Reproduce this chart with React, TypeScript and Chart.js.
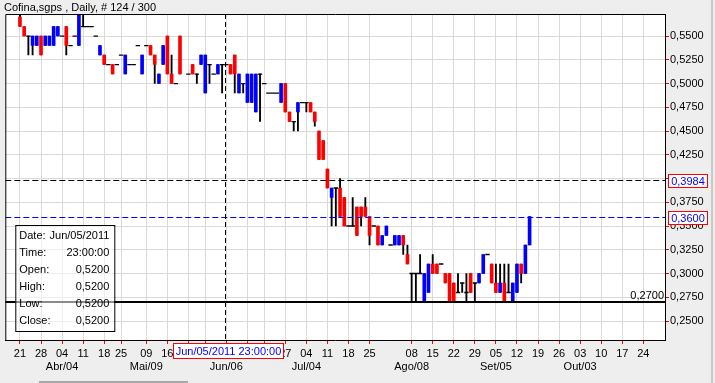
import React, { useEffect, useRef } from 'react';
import { Chart, registerables } from 'chart.js';

Chart.register(...registerables);

// ---- data (bar index = trading-day position on the x axis) ----
const candleIdx = [
  0, 1, 2, 3, 4, 5, 6, 7, 8, 9,
  10, 11, 12, 13, 14, 15, 16, 17, 18, 19,
  20, 21, 22, 23, 24, 25, 26, 27, 28, 29,
  30, 31, 32, 33, 34, 35, 36, 37, 38, 40,
  41, 42, 43, 44, 45, 46, 47, 48, 49, 50,
  51, 52, 53, 54, 55, 56, 57, 58, 59, 60,
  61, 62, 63, 64, 65, 66, 67, 68, 69, 70,
  71, 72, 73, 74, 75, 76, 77, 78, 79, 80,
  81, 82, 83, 84, 85, 86, 87, 88, 89, 90,
  91, 92, 93, 94, 95, 96, 97, 98, 99, 100,
  101, 102, 103, 104, 105, 106, 107, 108, 109, 110,
  111, 112, 113, 114, 115, 116, 117, 118, 119, 120,
  121,
];
const openP = [
  0.57, 0.56, 0.55, 0.54, 0.54, 0.55, 0.54, 0.54, 0.54, 0.55,
  0.55, 0.56, 0.54, 0.55, 0.54, 0.56, 0.56, 0.56, 0.55, 0.53,
  0.53, 0.52, 0.52, 0.52, 0.53, 0.51, 0.52, 0.52, 0.54, 0.51,
  0.54, 0.54, 0.53, 0.50, 0.52, 0.55, 0.51, 0.50, 0.55, 0.51,
  0.52, 0.51, 0.52, 0.49, 0.52, 0.51, 0.51, 0.52, 0.52, 0.52,
  0.53, 0.49, 0.50, 0.48, 0.48, 0.47, 0.51, 0.50, 0.49, 0.49,
  0.49, 0.48, 0.50, 0.47, 0.46, 0.47, 0.48, 0.48, 0.48, 0.47,
  0.45, 0.44, 0.41, 0.38, 0.39, 0.39, 0.38, 0.35, 0.35, 0.37,
  0.37, 0.37, 0.36, 0.35, 0.35, 0.33, 0.34, 0.33, 0.33, 0.33,
  0.34, 0.32, 0.30, 0.30, 0.30, 0.27, 0.28, 0.31, 0.31, 0.31,
  0.30, 0.30, 0.29, 0.28, 0.29, 0.28, 0.30, 0.29, 0.29, 0.30,
  0.32, 0.31, 0.29, 0.28, 0.29, 0.28, 0.27, 0.28, 0.31, 0.30,
  0.33,
];
const highP = [
  0.58, 0.56, 0.55, 0.55, 0.55, 0.55, 0.55, 0.55, 0.56, 0.56,
  0.55, 0.56, 0.54, 0.55, 0.58, 0.58, 0.56, 0.56, 0.55, 0.54,
  0.53, 0.52, 0.52, 0.52, 0.53, 0.53, 0.52, 0.52, 0.54, 0.53,
  0.54, 0.54, 0.53, 0.51, 0.54, 0.55, 0.53, 0.50, 0.55, 0.51,
  0.52, 0.51, 0.53, 0.53, 0.52, 0.51, 0.52, 0.52, 0.52, 0.52,
  0.53, 0.51, 0.50, 0.51, 0.51, 0.51, 0.51, 0.50, 0.49, 0.49,
  0.49, 0.50, 0.50, 0.47, 0.46, 0.48, 0.48, 0.48, 0.48, 0.47,
  0.45, 0.44, 0.41, 0.39, 0.39, 0.40, 0.38, 0.35, 0.38, 0.37,
  0.37, 0.38, 0.36, 0.35, 0.35, 0.34, 0.35, 0.33, 0.34, 0.34,
  0.34, 0.33, 0.30, 0.30, 0.32, 0.30, 0.31, 0.32, 0.31, 0.31,
  0.30, 0.30, 0.29, 0.30, 0.29, 0.30, 0.30, 0.29, 0.30, 0.32,
  0.32, 0.31, 0.31, 0.31, 0.31, 0.31, 0.29, 0.31, 0.31, 0.33,
  0.36,
];
const lowP = [
  0.56, 0.55, 0.53, 0.53, 0.54, 0.53, 0.54, 0.54, 0.54, 0.55,
  0.55, 0.53, 0.54, 0.55, 0.54, 0.56, 0.56, 0.56, 0.55, 0.53,
  0.52, 0.52, 0.51, 0.52, 0.53, 0.51, 0.52, 0.52, 0.54, 0.51,
  0.54, 0.53, 0.50, 0.50, 0.52, 0.51, 0.50, 0.50, 0.51, 0.51,
  0.51, 0.50, 0.52, 0.49, 0.50, 0.51, 0.51, 0.49, 0.52, 0.51,
  0.49, 0.49, 0.49, 0.48, 0.48, 0.47, 0.46, 0.50, 0.49, 0.49,
  0.49, 0.48, 0.47, 0.46, 0.45, 0.45, 0.48, 0.47, 0.47, 0.455,
  0.42, 0.42, 0.39, 0.35, 0.35, 0.36, 0.35, 0.35, 0.35, 0.34,
  0.35, 0.36, 0.33, 0.35, 0.33, 0.33, 0.34, 0.33, 0.33, 0.33,
  0.32, 0.31, 0.27, 0.27, 0.30, 0.27, 0.28, 0.30, 0.30, 0.31,
  0.29, 0.27, 0.27, 0.28, 0.28, 0.27, 0.28, 0.27, 0.29, 0.30,
  0.32, 0.29, 0.28, 0.28, 0.27, 0.28, 0.27, 0.28, 0.29, 0.30,
  0.33,
];
const closeP = [
  0.56, 0.55, 0.55, 0.55, 0.55, 0.53, 0.55, 0.55, 0.56, 0.56,
  0.55, 0.54, 0.54, 0.55, 0.575, 0.56, 0.56, 0.56, 0.55, 0.54,
  0.52, 0.52, 0.51, 0.52, 0.53, 0.53, 0.52, 0.52, 0.54, 0.53,
  0.54, 0.53, 0.52, 0.51, 0.54, 0.51, 0.50, 0.50, 0.51, 0.51,
  0.51, 0.51, 0.53, 0.53, 0.52, 0.51, 0.52, 0.52, 0.52, 0.51,
  0.51, 0.51, 0.50, 0.51, 0.51, 0.51, 0.51, 0.50, 0.49, 0.49,
  0.49, 0.50, 0.47, 0.46, 0.46, 0.48, 0.48, 0.48, 0.47, 0.46,
  0.42, 0.42, 0.39, 0.39, 0.39, 0.36, 0.35, 0.35, 0.35, 0.34,
  0.36, 0.36, 0.34, 0.35, 0.33, 0.34, 0.35, 0.33, 0.34, 0.34,
  0.33, 0.31, 0.30, 0.30, 0.30, 0.30, 0.31, 0.30, 0.30, 0.31,
  0.29, 0.27, 0.27, 0.28, 0.29, 0.28, 0.28, 0.29, 0.30, 0.32,
  0.32, 0.29, 0.28, 0.29, 0.27, 0.28, 0.29, 0.31, 0.30, 0.33,
  0.36,
];

const yTicks = [0.25, 0.275, 0.3, 0.325, 0.35, 0.375, 0.4, 0.425, 0.45, 0.475, 0.5, 0.525, 0.55];
const xTickIdx = [0, 5, 10, 15, 20, 24, 30, 35, 40, 44, 49, 54, 58, 63, 68, 73, 78, 83, 93, 98, 103, 108, 113, 118, 123, 128, 133, 138, 143, 148];
const xTickDay = ['21', '28', '04', '11', '18', '25', '09', '16', '23', '30', '06', '13', '20', '27', '04', '11', '18', '25', '08', '15', '22', '29', '05', '12', '19', '26', '03', '10', '17', '24'];
const xTickMonth = ['', '', 'Abr/04', '', '', '', 'Mai/09', '', '', '', 'Jun/06', '', '', '', 'Jul/04', '', '', '', 'Ago/08', '', '', '', 'Set/05', '', '', '', 'Out/03', '', '', ''];

const titleText = 'Cofina,sgps , Daily, # 124 / 300';
const lastPrice = 0.36;
const refPrice = 0.3984;
const crossIdx = 48.7;
const crossPrice = 0.27;
const crossDate = 'Jun/05/2011 23:00:00';
const infoLabels = ['Date:', 'Time:', 'Open:', 'High:', 'Low:', 'Close:'];
const infoValues = ['Jun/05/2011', '23:00:00', '0,5200', '0,5200', '0,5200', '0,5200'];

const X_MIN = -3.48;
const X_MAX = 153.15;
const Y_MIN = 0.23;
const Y_MAX = 0.5732;

const FONT = '"Liberation Sans", Arial, Helvetica, sans-serif';
const fmt = (v: number) => v.toFixed(4).replace('.', ',');

export default function App() {
  const ref = useRef<HTMLCanvasElement | null>(null);

  useEffect(() => {
    document.body.style.margin = '0';
    const canvas = ref.current;
    if (!canvas) return;

    const bodies: any[] = [];
    const bodyColors: string[] = [];
    const dojis: any[] = [];
    const wicks: any[] = [];
    candleIdx.forEach((x, i) => {
      const o = openP[i], c = closeP[i], h = highP[i], l = lowP[i];
      if (h > l) wicks.push({ x, y: [l, h] });
      if (o === c) {
        dojis.push({ x, y: o });
      } else {
        bodies.push({ x, y: [o, c] });
        bodyColors.push(c > o ? '#0000FF' : '#FF0000');
      }
    });

    const decor = {
      id: 'decor',
      beforeDraw(chart: any) {
        const { ctx, chartArea: a, width, height } = chart;
        ctx.save();
        ctx.fillStyle = '#EEEEEE';
        ctx.fillRect(0, 0, width, height);
        ctx.fillStyle = '#FFFFFF';
        ctx.fillRect(a.left, a.top, a.right - a.left, a.bottom - a.top);
        ctx.restore();
      },
      afterDatasetsDraw(chart: any) {
        const { ctx, chartArea: a } = chart;
        const xs = chart.scales.x;
        const ys = chart.scales.y;
        ctx.save();
        ctx.beginPath();
        ctx.rect(a.left, a.top, a.right - a.left, a.bottom - a.top);
        ctx.clip();
        const hline = (yy: number) => {
          ctx.beginPath();
          ctx.moveTo(a.left, yy);
          ctx.lineTo(a.right, yy);
          ctx.stroke();
        };
        ctx.lineWidth = 1;
        ctx.setLineDash([6, 3]);
        ctx.strokeStyle = '#000000';
        hline(Math.round(ys.getPixelForValue(refPrice)) + 0.5);
        ctx.strokeStyle = '#0000FF';
        hline(Math.round(ys.getPixelForValue(lastPrice)) + 0.5);
        // vertical crosshair
        const xc = Math.round(xs.getPixelForValue(crossIdx)) + 0.5;
        ctx.strokeStyle = '#000000';
        ctx.setLineDash([5, 3]);
        ctx.beginPath();
        ctx.moveTo(xc, a.top);
        ctx.lineTo(xc, a.bottom);
        ctx.stroke();
        // horizontal crosshair
        ctx.setLineDash([]);
        ctx.lineWidth = 2;
        const yc = Math.round(ys.getPixelForValue(crossPrice));
        hline(yc);
        ctx.font = `11px ${FONT}`;
        ctx.fillStyle = '#000000';
        ctx.textAlign = 'right';
        ctx.textBaseline = 'alphabetic';
        ctx.fillText(fmt(crossPrice), a.right - 1, yc - 3);
        ctx.restore();
      },
      afterDraw(chart: any) {
        const { ctx, chartArea: a } = chart;
        const xs = chart.scales.x;
        const ys = chart.scales.y;
        ctx.save();
        // left and top plot border
        ctx.strokeStyle = '#000000';
        ctx.lineWidth = 1;
        ctx.beginPath();
        ctx.moveTo(a.left + 0.5, a.bottom);
        ctx.lineTo(a.left + 0.5, a.top + 0.5);
        ctx.lineTo(a.right, a.top + 0.5);
        ctx.stroke();

        ctx.font = `11px ${FONT}`;
        // value boxes on the price axis
        const valueBox = (v: number) => {
          const yy = Math.round(ys.getPixelForValue(v));
          const bx = a.right + 3, bw = 39, bh = 13;
          const by = yy - 6;
          ctx.fillStyle = '#FFFFFF';
          ctx.fillRect(bx, by, bw, bh);
          ctx.strokeStyle = '#FF0000';
          ctx.strokeRect(bx + 0.5, by + 0.5, bw, bh);
          ctx.fillStyle = '#0000FF';
          ctx.textAlign = 'center';
          ctx.textBaseline = 'middle';
          ctx.fillText(fmt(v), bx + bw / 2 + 0.5, by + bh / 2 + 1);
        };
        valueBox(refPrice);
        valueBox(lastPrice);

        // crosshair date box
        const xc = Math.round(xs.getPixelForValue(crossIdx));
        const dw = 110, dh = 15;
        const dx = xc - 52, dy = a.bottom + 3;
        ctx.fillStyle = '#FFFFFF';
        ctx.fillRect(dx, dy, dw, dh);
        ctx.strokeStyle = '#FF0000';
        ctx.strokeRect(dx + 0.5, dy + 0.5, dw, dh);
        ctx.fillStyle = '#0000FF';
        ctx.textAlign = 'center';
        ctx.textBaseline = 'middle';
        ctx.fillText(crossDate, dx + dw / 2 + 0.5, dy + dh / 2 + 1);

        // info box
        const ix = a.left + 10, iy = a.bottom - 115, iw = 99, ih = 106;
        ctx.fillStyle = 'rgba(255,255,255,0.55)';
        ctx.fillRect(ix, iy, iw, ih);
        ctx.strokeStyle = '#000000';
        ctx.strokeRect(ix + 0.5, iy + 0.5, iw, ih);
        ctx.fillStyle = '#000000';
        ctx.textBaseline = 'middle';
        infoLabels.forEach((lab, r) => {
          const ty = iy + 11 + r * 17;
          ctx.textAlign = 'left';
          ctx.fillText(lab, ix + 4, ty);
          ctx.textAlign = 'right';
          ctx.fillText(infoValues[r], ix + iw - 5, ty);
        });

        // title
        ctx.textAlign = 'left';
        ctx.textBaseline = 'middle';
        ctx.fillStyle = '#000000';
        ctx.font = `11px ${FONT}`;
        ctx.fillText(titleText, 4, 7.5);
        ctx.restore();
      },
    };

    const chart = new Chart(canvas, {
      type: 'bar',
      data: {
        datasets: [
          {
            type: 'bar',
            data: bodies,
            backgroundColor: bodyColors,
            borderWidth: 0,
            barThickness: 3,
            grouped: false,
            order: 0,
          } as any,
          {
            type: 'scatter',
            data: dojis,
            pointStyle: 'line',
            radius: 2.2,
            borderColor: '#000000',
            backgroundColor: '#000000',
            borderWidth: 1.3,
            order: 1,
          } as any,
          {
            type: 'bar',
            data: wicks,
            backgroundColor: '#000000',
            borderWidth: 0,
            barThickness: 1.2,
            grouped: false,
            order: 2,
          } as any,
        ],
      },
      options: {
        responsive: false,
        animation: false,
        devicePixelRatio: 1,
        events: [],
        layout: { padding: { left: 4, top: 14, right: 0, bottom: 0 } },
        plugins: { legend: { display: false }, tooltip: { enabled: false }, title: { display: false } },
        scales: {
          x: {
            type: 'linear',
            min: X_MIN,
            max: X_MAX,
            offset: false,
            afterBuildTicks: (s: any) => {
              s.ticks = xTickIdx.map((v) => ({ value: v }));
            },
            afterFit: (s: any) => {
              s.height = 43;
            },
            grid: { offset: false, color: '#D9D9D9', lineWidth: 1, tickColor: '#FF0000', tickLength: 4, drawTicks: true },
            border: { display: true, color: '#000000', width: 1 },
            ticks: {
              autoSkip: false,
              maxRotation: 0,
              minRotation: 0,
              padding: 3,
              color: '#000000',
              font: { family: FONT, size: 11, lineHeight: '13px' } as any,
              callback: (_v: any, i: number) => (xTickMonth[i] ? [xTickDay[i], xTickMonth[i]] : xTickDay[i]),
            },
          } as any,
          y: {
            type: 'linear',
            position: 'right',
            min: Y_MIN,
            max: Y_MAX,
            afterBuildTicks: (s: any) => {
              s.ticks = yTicks.map((v) => ({ value: v }));
            },
            afterFit: (s: any) => {
              s.width = 50;
            },
            grid: { color: '#D9D9D9', lineWidth: 1, tickColor: '#FF0000', tickLength: 4, drawTicks: true },
            border: { display: true, color: '#000000', width: 1 },
            ticks: {
              padding: 1,
              color: '#000000',
              font: { family: FONT, size: 11 },
              callback: (v: any) => fmt(Number(v)),
            },
          } as any,
        },
      },
      plugins: [decor],
    });

    return () => chart.destroy();
  }, []);

  return (
    <div style={{ position: 'relative', width: 715, height: 383, background: '#EEEEEE', overflow: 'hidden' }}>
      <canvas ref={ref} width={715} height={383} style={{ display: 'block', width: 715, height: 383 }} />
      <div style={{ position: 'absolute', left: 711, top: 0, width: 2, height: 383, background: '#C8C8C8' }} />
      <div style={{ position: 'absolute', left: 39, top: 381, width: 149, height: 2, background: '#A8A8A8' }} />
    </div>
  );
}
